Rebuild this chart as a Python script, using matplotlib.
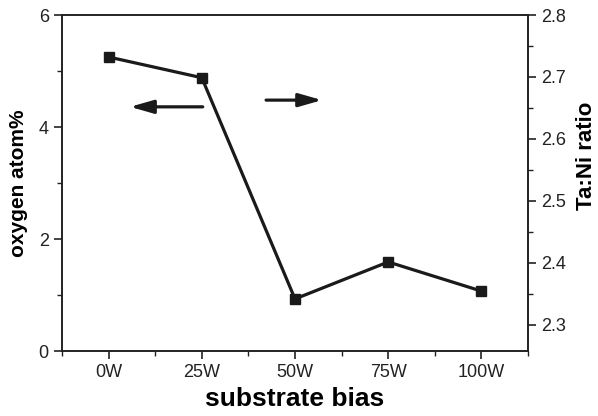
import matplotlib
matplotlib.use('Agg')
import matplotlib.pyplot as plt
from matplotlib.ticker import MultipleLocator

plt.rcParams['font.family'] = ['Liberation Sans', 'DejaVu Sans']

bias = ['0W', '25W', '50W', '75W', '100W']
oxygen = [5.25, 4.88, 0.93, 1.59, 1.07]

fig = plt.figure(figsize=(5.98, 4.16), dpi=100)
ax = fig.add_axes([62/598, 65/416, 466/598, 336/416])
ax2 = ax.twinx()

x = list(range(len(bias)))
ax.plot(x, oxygen, color='#1a1a1a', lw=2.3, marker='s', ms=7.5, zorder=3)

ax.set_xlim(-0.5, 4.5)
ax.set_ylim(0, 6)
ax2.set_ylim(2.258, 2.8)

ax.set_xticks(x)
ax.set_xticklabels(bias)
ax.xaxis.set_minor_locator(MultipleLocator(0.5))
ax.yaxis.set_major_locator(MultipleLocator(2))
ax.yaxis.set_minor_locator(MultipleLocator(1))
ax2.yaxis.set_minor_locator(MultipleLocator(0.05))
ax2.set_yticks([2.3, 2.4, 2.5, 2.6, 2.7, 2.8])

for a in (ax, ax2):
    for s in a.spines.values():
        s.set_linewidth(1.2)
        s.set_color('#222222')
    a.tick_params(which='major', direction='out', length=6, width=1.2, labelsize=13, colors='#222222')
    a.tick_params(which='minor', direction='out', length=3.5, width=1.0, colors='#222222')

ax.set_xlabel('substrate bias', fontsize=19, fontweight='bold', labelpad=4)
ax.set_ylabel('oxygen atom%', fontsize=15, fontweight='bold', labelpad=8)
ax2.set_ylabel('Ta:Ni ratio', fontsize=16, fontweight='bold')
ax2.yaxis.set_label_coords(1.104, 0.58)

# direction arrows
style = dict(arrowstyle='-|>,head_length=1.4,head_width=0.4', lw=2.3,
             color='#1a1a1a', shrinkA=0, shrinkB=0)
ax.annotate('', xy=(0.23, 4.36), xytext=(1.01, 4.36), arrowprops=style)
ax.annotate('', xy=(2.29, 4.48), xytext=(1.69, 4.48), arrowprops=style)

fig.savefig('out.png', dpi=100)
plt.close()
